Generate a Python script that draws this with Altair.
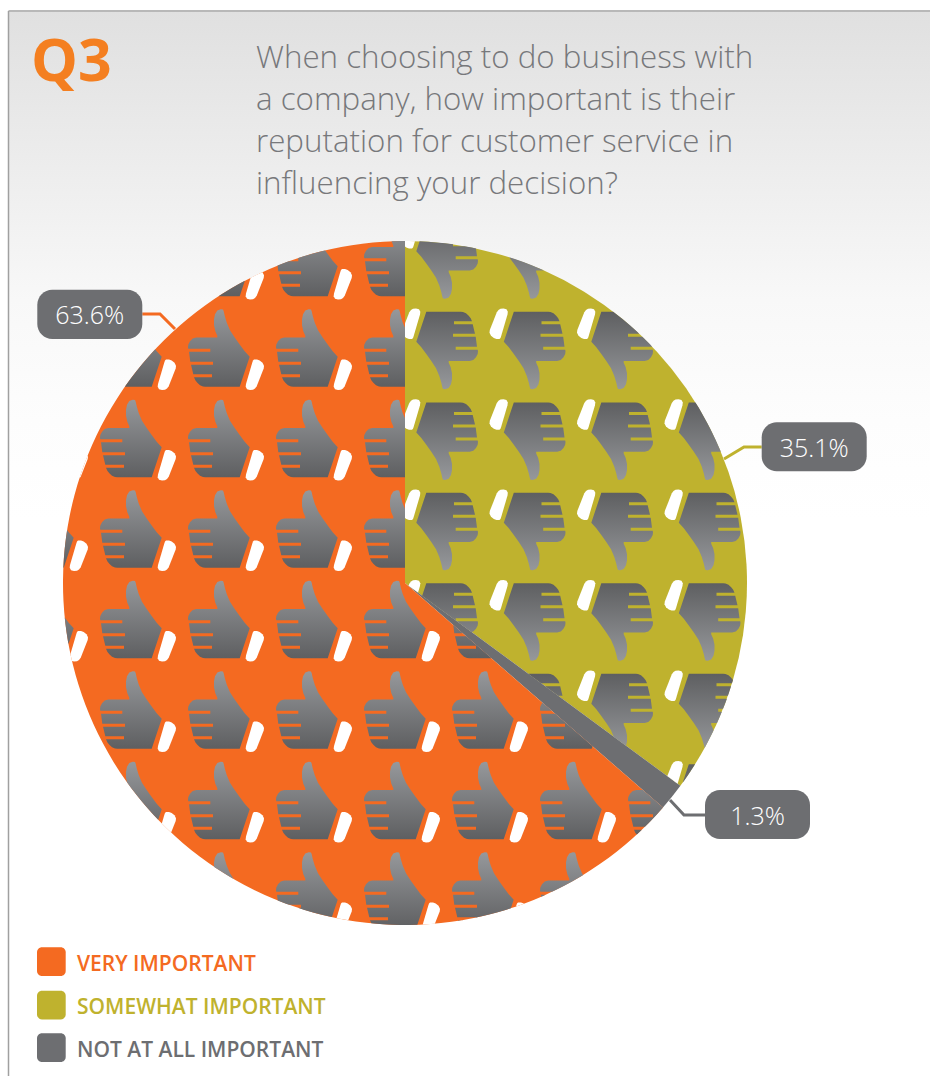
import math
import altair as alt
import pandas as pd

W, H = 930, 1076
CX, CY, R = 405.0, 583.0, 342.0

# survey results, clockwise from twelve o'clock
answers = ["SOMEWHAT IMPORTANT", "NOT AT ALL IMPORTANT", "VERY IMPORTANT"]
shares = [35.1, 1.3, 63.6]
answer_colors = ["#BFB22E", "#6D6E71", "#F46A21"]
share_labels = ["35.1%", "1.3%", "63.6%"]

question = [
    "When choosing to do business with",
    "a company, how important is their",
    "reputation for customer service in",
    "influencing your decision?",
]

legend_order = ["VERY IMPORTANT", "SOMEWHAT IMPORTANT", "NOT AT ALL IMPORTANT"]
legend_colors = ["#F46A21", "#BFB22E", "#6D6E71"]
legend_top = [947.3, 990.7, 1033.3]

# value bubbles: left, right, top, bottom, and their leader lines
bubble_left = [761.7, 705.0, 37.3]
bubble_right = [866.7, 810.0, 142.3]
bubble_top = [422.3, 790.0, 289.7]
bubble_bottom = [471.3, 839.0, 339.0]
leader_x = [[761.7, 744.0, 724.0], [705.0, 684.0, 670.0], [142.3, 160.0, 175.0]]
leader_y = [[447.0, 447.0, 459.0], [815.0, 815.0, 800.0], [314.0, 314.0, 329.0]]

# repeat grid of the icon pattern
up_cols = [42, 130, 218, 306, 394, 482, 570, 658]
up_rows = [258, 348.5, 439, 529.5, 620, 710.5, 801, 891.5]
down_cols = [448, 535.5, 623, 710.5]
down_rows = [259.5, 350, 440.7, 531, 621.5, 712, 802.5]

# thumb outline around its anchor; the notches are the finger gaps
THUMB = [
    (5, -39), (2.7, -39.3), (-0.7, -38), (-3, -34.3), (-4, -29.3), (-4, -23.3),
    (-2.7, -17.3), (-0.7, -12.7), (-0.7, -11), (-21.7, -11), (-25.3, -10),
    (-28, -7.3), (-29.7, -4), (-30, -1.3), (-29.7, 0.3),
    (-7.7, 0.3), (-7.7, 3.3), (-29, 3.3),
    (-27.7, 13.3), (-5, 13.3), (-5, 16.3), (-27, 16.3),
    (-24.7, 25.7), (-6, 25.7), (-6, 28.7), (-24, 28.7),
    (-22.7, 31.7), (-20.7, 34.3), (-18, 36.7), (-15, 38), (-12.7, 38.3),
    (21.7, 38.3), (31.7, 8.3), (26.7, 2.7), (21.7, -4), (16.7, -11),
    (12, -18.3), (8.7, -26), (6.7, -32.7), (5.7, -37.3),
]
CUFF = [
    (36, 11), (39, 11), (41.7, 12), (44.5, 14.3), (46, 17.3), (45.7, 20),
    (38.7, 37.7), (37, 40), (35, 41.3), (32, 41.5), (29, 40.7), (27.7, 38.3),
    (28, 35.5), (34.3, 14), (35, 12),
]


def half_plane(poly, nx, ny, px, py):
    """Keep the part of poly where (p - (px, py)) . (nx, ny) >= 0."""
    out = []
    for i, a in enumerate(poly):
        b = poly[(i + 1) % len(poly)]
        da = (a[0] - px) * nx + (a[1] - py) * ny
        db = (b[0] - px) * nx + (b[1] - py) * ny
        if da >= 0:
            out.append(a)
        if (da >= 0) != (db >= 0):
            t = da / (da - db)
            out.append((a[0] + t * (b[0] - a[0]), a[1] + t * (b[1] - a[1])))
    return out


def clip_disc(poly):
    if all(math.hypot(x - CX, y - CY) <= R for x, y in poly):
        return poly
    n = 240
    for k in range(n):
        a = 2 * math.pi * k / n
        if not poly:
            break
        ux, uy = math.cos(a), math.sin(a)
        poly = half_plane(poly, -ux, -uy, CX + R * ux, CY + R * uy)
    return poly


def edge_dir(pct):
    a = 2 * math.pi * pct / 100
    return math.sin(a), -math.cos(a)


olive_end = shares[0]
orange_start = shares[0] + shares[1]


def clip_up(poly, ay):
    # the orange slice is reflex, but each row only meets one of its straight edges
    if ay < CY:
        poly = half_plane(poly, -1, 0, CX, CY)
    else:
        ex, ey = edge_dir(orange_start)
        poly = half_plane(poly, -ey, ex, CX, CY)
    return clip_disc(poly) if poly else poly


def clip_down(poly, ay):
    poly = half_plane(poly, 1, 0, CX, CY)
    if poly:
        ex, ey = edge_dir(olive_end)
        poly = half_plane(poly, ey, -ex, CX, CY)
    return clip_disc(poly) if poly else poly


def to_path(pts):
    return "M" + "L".join(f"{x:.2f} {y:.2f}" for x, y in pts) + "Z"


def area(pts):
    return abs(sum(pts[i][0] * pts[(i + 1) % len(pts)][1] - pts[(i + 1) % len(pts)][0] * pts[i][1]
                   for i in range(len(pts)))) / 2


xs = alt.Scale(domain=[0, W], nice=False, zero=False)
ys = alt.Scale(domain=[H, 0], nice=False, zero=False)
X = alt.X("x:Q", scale=xs, axis=None)
Y = alt.Y("y:Q", scale=ys, axis=None)
X2 = alt.X2("x2:Q")
Y2 = alt.Y2("y2:Q")


def fade(g0, c0, g1, c1, lo, hi):
    span = (hi - lo) or 1
    return {
        "gradient": "linear", "x1": 0, "x2": 0,
        "y1": (g0 - lo) / span, "y2": (g1 - lo) / span,
        "stops": [{"offset": 0, "color": c0}, {"offset": 1, "color": c1}],
    }


layers = []

# page background fading out from the top edge
page_top = 12
page_stops = [(12, "#E0E0E0"), (120, "#E9E9E9"), (240, "#F3F3F3"),
              (300, "#F8F8F8"), (420, "#FDFDFD"), (520, "#FFFFFF")]
layers.append(
    alt.Chart(pd.DataFrame({"x": [9], "x2": [W], "y": [page_top], "y2": [H]}))
    .mark_rect(color={
        "gradient": "linear", "x1": 0, "x2": 0, "y1": 0, "y2": 1,
        "stops": [{"offset": (p - page_top) / (H - page_top), "color": c} for p, c in page_stops],
    })
    .encode(x=X, x2=X2, y=Y, y2=Y2)
)
layers.append(
    alt.Chart(pd.DataFrame({"x": [8.5, 8.5], "x2": [8.5, W], "y": [11, 11], "y2": [H, 11]}))
    .mark_rule(color="#A0A0A0", strokeWidth=1.5)
    .encode(x=X, x2=X2, y=Y, y2=Y2)
)

# the pie itself
layers.append(
    alt.Chart(pd.DataFrame({"answer": answers, "share": shares, "fill": answer_colors,
                            "rank": [0, 1, 2]}))
    .mark_arc(outerRadius=R)
    .encode(
        x=alt.value(CX), y=alt.value(CY),
        theta=alt.Theta("share:Q", stack=True),
        color=alt.Color("fill:N", scale=None),
        order=alt.Order("rank:Q"),
    )
)


def add_icons(cols, rows, sign, clipper, g0, c0, g1, c1):
    thumb_local = [(sign * x, sign * y) for x, y in THUMB]
    cuff_local = [(sign * x, sign * y) for x, y in CUFF]
    whole = []
    cuffs = []
    for ay in rows:
        for ax in cols:
            abs_pts = [(ax + x, ay + y) for x, y in thumb_local]
            cut = clipper(abs_pts, ay)
            if cut is abs_pts or cut == abs_pts:
                whole.append((ax, ay))
            elif len(cut) >= 3 and area(cut) > 0.5:
                local = [(x - ax, y - ay) for x, y in cut]
                lo = min(p[1] for p in local)
                hi = max(p[1] for p in local)
                layers.append(
                    alt.Chart(pd.DataFrame({"x": [ax], "y": [ay]}))
                    .mark_point(shape=to_path(local), filled=True, size=4, opacity=1, strokeWidth=0,
                                fill=fade(g0, c0, g1, c1, lo, hi))
                    .encode(x=X, y=Y)
                )
            abs_cuff = [(ax + x, ay + y) for x, y in cuff_local]
            cut = clipper(abs_cuff, ay)
            if len(cut) >= 3 and area(cut) > 0.5:
                cuffs.append({"x": ax, "y": ay, "path": to_path([(x - ax, y - ay) for x, y in cut])})
    lows = [y for _, y in thumb_local]
    layers.append(
        alt.Chart(pd.DataFrame(whole, columns=["x", "y"]))
        .mark_point(shape=to_path(thumb_local), filled=True, size=4, opacity=1, strokeWidth=0,
                    fill=fade(g0, c0, g1, c1, min(lows), max(lows)))
        .encode(x=X, y=Y)
    )
    layers.append(
        alt.Chart(pd.DataFrame(cuffs))
        .mark_point(filled=True, size=4, opacity=1, strokeWidth=0, fill="#FFFFFF")
        .encode(x=X, y=Y, shape=alt.Shape("path:N", scale=None, legend=None))
    )


add_icons(up_cols, up_rows, 1, clip_up, -39.3, "#96989B", 38.3, "#5E5F61")
add_icons(down_cols, down_rows, -1, clip_down, -38.3, "#5E5F61", 39.3, "#96989B")

# leader lines and value bubbles
for i, fill in enumerate(answer_colors):
    layers.append(
        alt.Chart(pd.DataFrame({"x": leader_x[i], "y": leader_y[i], "k": [0, 1, 2]}))
        .mark_line(color=fill, strokeWidth=3, strokeJoin="miter")
        .encode(x=X, y=Y, order=alt.Order("k:Q"))
    )
layers.append(
    alt.Chart(pd.DataFrame({"x": bubble_left, "x2": bubble_right, "y": bubble_top, "y2": bubble_bottom}))
    .mark_rect(color="#6D6E71", cornerRadius=15)
    .encode(x=X, x2=X2, y=Y, y2=Y2)
)
layers.append(
    alt.Chart(pd.DataFrame({
        "x": [(a + b) / 2 for a, b in zip(bubble_left, bubble_right)],
        "y": [(a + b) / 2 for a, b in zip(bubble_top, bubble_bottom)],
        "t": share_labels,
    }))
    .mark_text(font="Open Sans", fontSize=25, fontWeight=300, color="#FFFFFF",
               align="center", baseline="middle", dy=2)
    .encode(x=X, y=Y, text="t:N")
)

# heading
layers.append(
    alt.Chart(pd.DataFrame({"x": [31], "y": [81], "t": ["Q3"]}))
    .mark_text(font="Open Sans", fontSize=59, fontWeight=700, color="#F47F20", align="left", baseline="alphabetic")
    .encode(x=X, y=Y, text="t:N")
)
layers.append(
    alt.Chart(pd.DataFrame({"x": [256] * 4, "y": [68, 110, 152, 194], "t": question}))
    .mark_text(font="Open Sans", fontSize=31.3, fontWeight=300, color="#77787B", align="left", baseline="alphabetic")
    .encode(x=X, y=Y, text="t:N")
)

# legend
layers.append(
    alt.Chart(pd.DataFrame({"x": [37] * 3, "x2": [65.7] * 3, "y": legend_top,
                            "y2": [t + 28.7 for t in legend_top], "fill": legend_colors}))
    .mark_rect(cornerRadius=5)
    .encode(x=X, x2=X2, y=Y, y2=Y2, color=alt.Color("fill:N", scale=None))
)
layers.append(
    alt.Chart(pd.DataFrame({"x": [77] * 3, "y": [t + 23.4 for t in legend_top],
                            "t": legend_order, "fill": legend_colors}))
    .mark_text(font="Open Sans", fontSize=21, fontWeight=600, align="left", baseline="alphabetic")
    .encode(x=X, y=Y, text="t:N", color=alt.Color("fill:N", scale=None))
)

chart = (
    alt.layer(*layers)
    .properties(width=W, height=H, padding=0, autosize="none", background="#FFFFFF")
    .configure_view(stroke=None)
)

chart.save("out.html", embed_options={"renderer": "svg", "actions": False})
